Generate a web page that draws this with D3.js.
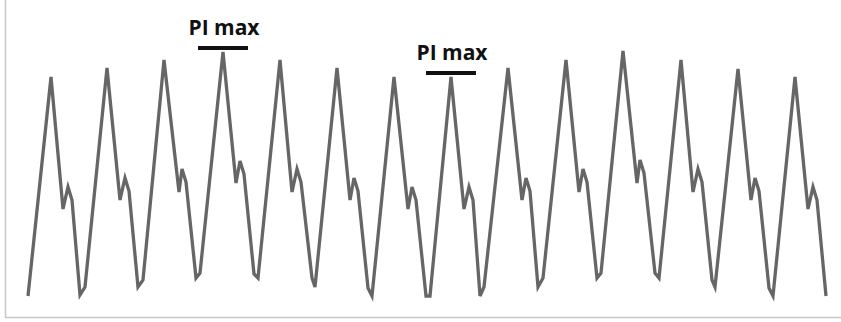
<!DOCTYPE html>
<html>
<head>
<meta charset="utf-8">
<script src="https://cdn.jsdelivr.net/npm/d3@7"></script>
<style>
  html, body { margin: 0; padding: 0; background: #fff; }
  svg { display: block; }
</style>
</head>
<body>
<div id="chart"></div>
<script>
// waveform samples: time (arbitrary units) and amplitude
const timeVals = [
  0, 23, 35, 40, 44, 52, 57,
  79, 92, 97, 101, 110, 115,
  136, 151, 154, 158, 168, 172,
  195, 208, 212, 216, 226, 230,
  252, 264, 269, 273, 284, 287,
  309, 322, 326, 330, 340, 344,
  366, 380, 384, 388, 398, 402,
  423, 436, 441, 445, 452, 456,
  480, 494, 498, 502, 510, 515,
  538, 551, 555, 559, 569, 573,
  595, 609, 612, 616, 627, 631,
  653, 665, 670, 674, 684, 687,
  710, 723, 727, 731, 741, 745,
  767, 780, 785, 789, 798
];
const ampVals = [
  0, 219, 87, 109, 96, 1, 9,
  228, 96, 118, 105, 9, 16,
  236, 104, 127, 114, 18, 23,
  244, 113, 135, 122, 22, 18,
  236, 104, 127, 114, 18, 9,
  228, 96, 118, 105, 8, 0,
  219, 87, 109, 96, 0, 0,
  219, 87, 109, 96, 0, 9,
  228, 96, 118, 105, 9, 18,
  236, 104, 127, 114, 18, 23,
  245, 113, 136, 123, 23, 18,
  236, 104, 127, 114, 16, 9,
  227, 96, 118, 105, 8, 0,
  219, 87, 109, 96, 0
];
// annotated peaks (index into the samples) and their label
const markIndex = [19, 43];
const markLabel = "PI max";

const W = 841, H = 322;
const margin = { top: 51, right: 15, bottom: 26, left: 28 };

const svg = d3.select("#chart").append("svg")
  .attr("width", W)
  .attr("height", H);

// frame (left and bottom edges only)
svg.append("line")
  .attr("x1", 5.5).attr("x2", 5.5).attr("y1", 0).attr("y2", 318)
  .attr("stroke", "#c8c8c8").attr("stroke-width", 1.5);
svg.append("line")
  .attr("x1", 5).attr("x2", W).attr("y1", 317.5).attr("y2", 317.5)
  .attr("stroke", "#c8c8c8").attr("stroke-width", 1.5);

const x = d3.scaleLinear()
  .domain([0, 798])
  .range([margin.left, W - margin.right]);
const y = d3.scaleLinear()
  .domain([0, 245])
  .range([H - margin.bottom, margin.top]);

const data = timeVals.map(function (t, i) {
  return { t: t, a: ampVals[i] };
});

const line = d3.line()
  .x(function (d) { return x(d.t); })
  .y(function (d) { return y(d.a); });

svg.append("path")
  .datum(data)
  .attr("fill", "none")
  .attr("stroke", "#666")
  .attr("stroke-width", 3.3)
  .attr("stroke-linejoin", "miter")
  .attr("d", line);

// PI max markers
markIndex.forEach(function (idx) {
  const px = x(data[idx].t);
  const py = y(data[idx].a);
  svg.append("line")
    .attr("x1", px - 25).attr("x2", px + 25)
    .attr("y1", py - 4).attr("y2", py - 4)
    .attr("stroke", "#111").attr("stroke-width", 4);
  svg.append("text")
    .attr("x", px + 1)
    .attr("y", py - 17)
    .attr("text-anchor", "middle")
    .attr("font-family", "'Open Sans', sans-serif")
    .attr("font-weight", "bold")
    .attr("font-size", 21)
    .attr("fill", "#111")
    .text(markLabel);
});
</script>
</body>
</html>
